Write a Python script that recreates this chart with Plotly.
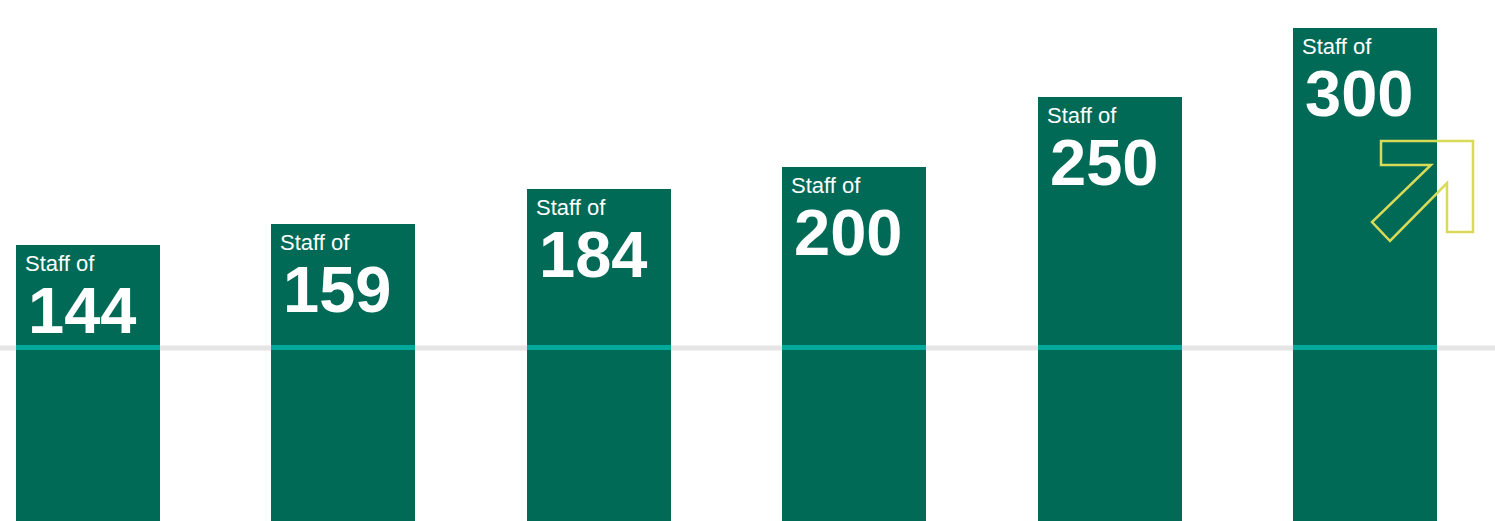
import plotly.graph_objects as go

# ---- data ----
categories = ["A", "B", "C", "D", "E", "F"]
staff = [144, 159, 184, 200, 250, 300]
label_prefix = "Staff of"
reference_level = 70

# ---- style ----
BAR_COLOR = "#006A56"
TEAL = "#00A99A"
GRAY = "#E5E5E5"
YELLOW = "#D9DA58"
Y_MIN, Y_MAX = -54.2, 319.8
BAR_W = 0.564
W, H = 1495, 521

x_idx = list(range(len(categories)))

fig = go.Figure()
fig.add_trace(go.Bar(
    x=x_idx, y=[v - Y_MIN for v in staff], base=Y_MIN,
    width=BAR_W, marker=dict(color=BAR_COLOR, line=dict(width=0)),
    hoverinfo="skip", showlegend=False,
))
# teal highlight of the reference line over each bar
fig.add_trace(go.Bar(
    x=x_idx, y=[3.6] * len(staff), base=reference_level - 1.8,
    width=BAR_W, marker=dict(color=TEAL, line=dict(width=0)),
    hoverinfo="skip", showlegend=False,
))

annotations = []
for i, v in zip(x_idx, staff):
    annotations.append(dict(
        x=i - BAR_W / 2, y=v, xref="x", yref="y",
        text=label_prefix, showarrow=False,
        xanchor="left", yanchor="top", xshift=7, yshift=-4,
        font=dict(family="Liberation Sans, Arial, sans-serif", size=22, color="white"),
    ))
    annotations.append(dict(
        x=i - BAR_W / 2, y=v, xref="x", yref="y",
        text=f"<b>{v}</b>", showarrow=False,
        xanchor="left", yanchor="top", xshift=10, yshift=-27,
        font=dict(family="Liberation Sans, Arial, sans-serif", size=65, color="white"),
    ))

# arrow decoration (paper coordinates)
arrow_px = [(1381, 141), (1473, 141), (1473, 232), (1447, 232), (1447, 183),
            (1390, 241), (1372, 222), (1431, 165), (1381, 165)]
path = "M " + " L ".join(f"{x / W:.5f},{1 - y / H:.5f}" for x, y in arrow_px) + " Z"

shapes = [
    dict(type="line", xref="paper", yref="y", x0=0, x1=1,
         y0=reference_level, y1=reference_level,
         line=dict(color=GRAY, width=5), layer="below"),
    dict(type="path", xref="paper", yref="paper", path=path,
         line=dict(color=YELLOW, width=2.5), fillcolor="rgba(0,0,0,0)", layer="above"),
]

fig.update_layout(
    width=W, height=H,
    margin=dict(l=0, r=0, t=0, b=0),
    paper_bgcolor="white", plot_bgcolor="white",
    barmode="overlay", bargap=0,
    xaxis=dict(range=[-88 / 255.4, (W - 88) / 255.4], visible=False, fixedrange=True),
    yaxis=dict(range=[Y_MIN, Y_MAX], visible=False, fixedrange=True),
    annotations=annotations, shapes=shapes,
    showlegend=False,
)

fig.write_html(
    "out.html",
    config={"displayModeBar": False},
    post_script="document.body.style.margin='0';document.body.style.overflow='hidden';",
)
